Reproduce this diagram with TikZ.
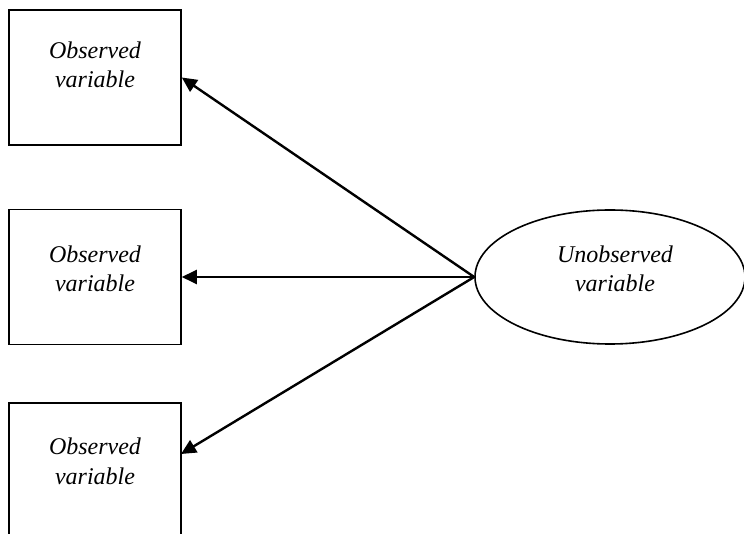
\documentclass[tikz,border=0pt]{standalone}
\usepackage{fontspec}
\setmainfont{Liberation Serif}
\usetikzlibrary{arrows.meta,shapes.geometric}
\begin{document}
\begin{tikzpicture}[x=1pt,y=-1pt,
  obsbox/.style={draw, line width=1.6pt, rectangle, minimum width=172pt, minimum height=135pt, inner sep=0pt},
  latent/.style={draw, line width=1.6pt, ellipse, minimum width=270pt, minimum height=134pt, inner sep=0pt},
  lbl/.style={font=\fontsize{24}{29.5}\selectfont\itshape, align=center, inner sep=0pt, anchor=base},
  link/.style={line width=2.4pt, -{Triangle[length=15pt,width=14pt]}}]
\clip (0,0) rectangle (744,534);
% observed indicators
\node[obsbox] (o1) at (95,77.5) {};
\node[obsbox] (o2) at (95,277) {};
\node[obsbox] (o3) at (95,470.5) {};
% latent factor
\node[latent] (u) at (610,277) {};
% labels
\node[lbl] (t1) at (95,88) {Observed\\variable};
\node[lbl] (t2) at (95,292) {Observed\\variable};
\node[lbl] (t3) at (95,484) {Observed\\variable};
\node[lbl] (tu) at (615,292) {Unobserved\\variable};
% arrow targets on the right sides of the boxes
\coordinate (p1) at (o1.east);
\coordinate (p3) at (181,454);
% loadings
\draw[link] (u.west) -- (p1);
\draw[link] (u.west) -- (o2.east);
\draw[link] (u.west) -- (p3);
\end{tikzpicture}
\end{document}
